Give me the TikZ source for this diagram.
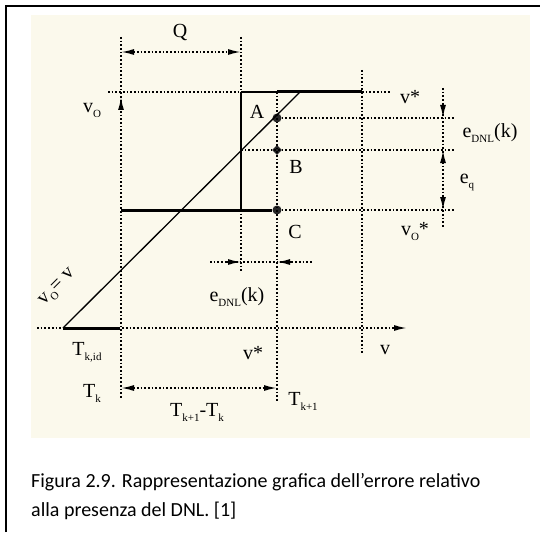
\documentclass[tikz,border=0pt]{standalone}
\usepackage{fontspec}
\setmainfont{Liberation Serif}
\newfontfamily\capfont{Carlito}
\usetikzlibrary{arrows.meta,shapes.geometric}
\definecolor{paper}{RGB}{251,249,236}
\newcommand{\lowsub}[1]{\raisebox{-5pt}{\fontsize{11}{11}\selectfont #1}}
\tikzset{
  dots/.style={line width=1.7pt, dash pattern=on 1.7pt off 2pt},
  thick line/.style={line width=3pt},
  thin line/.style={line width=1.3pt},
  tip/.style={-{Latex[length=13pt,width=6pt]}, line width=1.7pt, dash pattern=on 1.7pt off 2pt},
  lbl/.style={inner sep=0pt, font=\fontsize{20}{22}\selectfont},
  pt/.style={circle, fill=black!85, inner sep=0pt, minimum size=9pt},
  dia/.style={diamond, fill=black!85, inner sep=0pt, minimum size=10pt},
}
\begin{document}
\begin{tikzpicture}[x=1pt,y=-1pt]
\useasboundingbox (0,0) rectangle (540,532);
\fill[white] (0,0) rectangle (540,532);
\fill[paper] (31,15) rectangle (530,438);
\draw[line width=2.6pt] (6,532) -- (6,6) -- (540,6);

% coordinates
\coordinate (qL) at (121,52);
\coordinate (qR) at (241,52);
\coordinate (axTop) at (121,37);
\coordinate (axBot) at (121,398);
\coordinate (xTop) at (241,37);
\coordinate (xMid) at (241,92);
\coordinate (xLow) at (241,210);
\coordinate (xEnd) at (241,272);
\coordinate (tl) at (108,92);
\coordinate (s1) at (277,92);
\coordinate (s2) at (362,92);
\coordinate (s3) at (390,92);
\coordinate (rvTop) at (362,70);
\coordinate (rvBot) at (362,353);
\coordinate (cvTop) at (277,92);
\coordinate (cvBot) at (277,402);
\coordinate (lowL) at (121,210);
\coordinate (diagA) at (63,328);
\coordinate (diagB) at (300,92);
\coordinate (bL) at (120,328);
\coordinate (vaxL) at (37,328);
\coordinate (vaxR) at (407,328);
\coordinate (eR1) at (455,118);
\coordinate (eR2) at (455,150);
\coordinate (eR3) at (455,210);
\coordinate (bL2) at (241,150);

% points A, B, C
\node[pt] (A) at (277,118) {};
\node[dia] (B) at (277,150) {};
\node[pt] (C) at (277,210) {};

% vertical axis v_O
\draw[dots] (axTop) -- (axBot);
\draw[-{Latex[length=13pt,width=6pt]}, line width=1.7pt] (121,110) -- (121,97);
% Q extension and dimension
\draw[dots] (xTop) -- (xMid);
\draw[dots,{Latex[length=13pt,width=6pt]}-{Latex[length=13pt,width=6pt]}] (qL) -- (qR);
% top dotted
\draw[dots] (tl) -- (xMid);
\draw[thin line] (xMid) -- (s1);
\draw[thin line] (xMid) -- (xLow);
\draw[dots] (xLow) -- (xEnd);
\draw[thick line] (s1) -- (s2);
\draw[dots] (s2) -- (s3);
\draw[dots] (rvTop) -- (rvBot);
\draw[dots] (cvTop) -- (cvBot);
% horizontals through A,B,C
\draw[dots] (A) -- (eR1);
\draw[dots] (bL2) -- (eR2);
\draw[dots] (C) -- (eR3);
% lower step
\draw[thick line] (lowL) -- (C);
% diagonal
\draw[thin line] (diagA) -- (diagB);
% v axis
\draw[tip] (vaxL) -- (vaxR);
\draw[thick line] (diagA) -- (bL);
% right dimension
\coordinate (rdTop) at (443,88);
\coordinate (rdBot) at (443,228);
\draw[dots] (rdTop) -- (rdBot);
\draw[-{Latex[length=13pt,width=6pt]}, line width=1.7pt] (443,104) -- (443,118);
\draw[-{Latex[length=13pt,width=6pt]}, line width=1.7pt] (443,164) -- (443,150);
\draw[-{Latex[length=13pt,width=6pt]}, line width=1.7pt] (443,196) -- (443,210);
% bottom e_DNL dimension
\coordinate (edL) at (210,262);
\coordinate (edR) at (312,262);
\draw[dots] (edL) -- (edR);
\draw[-{Latex[length=13pt,width=6pt]}, line width=1.7pt] (225,262) -- (241,262);
\draw[-{Latex[length=13pt,width=6pt]}, line width=1.7pt] (293,262) -- (277,262);
% T dimension
\draw[dots,{Latex[length=13pt,width=6pt]}-{Latex[length=13pt,width=6pt]}] (121,388) -- (277,388);

% labels
\node[lbl] (lQ) at (180,33) {Q};
\node[lbl] (lvo) at (92,110) {v\lowsub{O}};
\node[lbl] (lA) at (257,112) {A};
\node[lbl] (lB) at (296,167) {B};
\node[lbl] (lC) at (295,232) {C};
\node[lbl] (lvs) at (410,97) {v*};
\node[lbl] (leR) at (490,133) {e\lowsub{DNL}(k)};
\node[lbl] (leq) at (467,182) {e\lowsub{q}};
\node[lbl] (lvos) at (415,232) {v\lowsub{O}*};
\node[lbl] (leB) at (237,297) {e\lowsub{DNL}(k)};
\node[lbl, rotate=45] (lvv) at (58,288) {v\lowsub{O}= v};
\node[lbl] (ltid) at (87,352) {T\lowsub{k,id}};
\node[lbl] (ltk) at (92,393) {T\lowsub{k}};
\node[lbl] (ltd) at (197,412) {T\lowsub{k+1}-T\lowsub{k}};
\node[lbl] (ltk1) at (303,401) {T\lowsub{k+1}};
\node[lbl] (lvs2) at (253,353) {v*};
\node[lbl] (lv) at (385,350) {v};

% caption
\node[anchor=base west, inner sep=0pt, font=\capfont\fontsize{20}{22}\selectfont] (cap1) at (31,487) {Figura 2.9. Rappresentazione grafica dell’errore relativo};
\node[anchor=base west, inner sep=0pt, font=\capfont\fontsize{20}{22}\selectfont] (cap2) at (31,516) {alla presenza del DNL. [1]};
\end{tikzpicture}
\end{document}
